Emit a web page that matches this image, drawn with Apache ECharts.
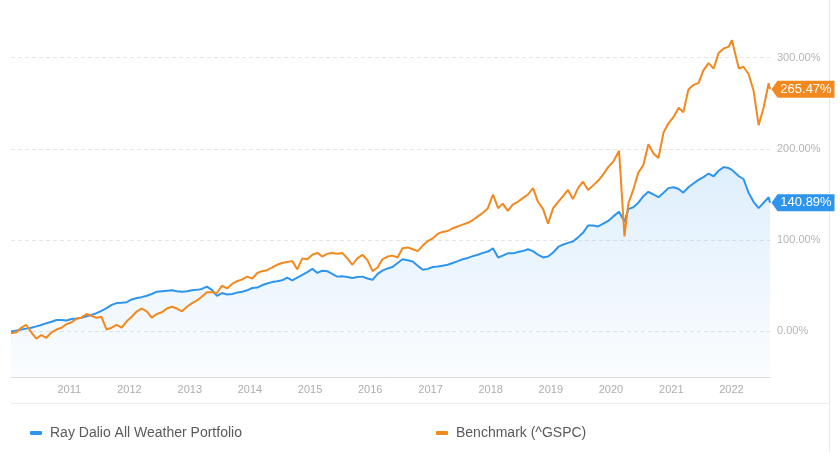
<!DOCTYPE html>
<html>
<head>
<meta charset="utf-8">
<style>
  html, body { margin: 0; padding: 0; background: #fff; }
  #chart { width: 840px; height: 460px; }
</style>
<script src="https://cdn.jsdelivr.net/npm/echarts@6/dist/echarts.min.js"></script>
</head>
<body>
<div id="chart"></div>
<script>
var dom = document.getElementById('chart');
var myChart = echarts.init(dom, null, { renderer: 'canvas' });

// one entry per month, plus a few turning points
var dates = [
  '2010-01-12', '2010-02-15', '2010-03-15', '2010-04-15', '2010-05-15', '2010-06-15', '2010-07-15', '2010-08-15', '2010-09-15', '2010-10-15', '2010-11-15', '2010-12-15',
  '2011-01-15', '2011-02-15', '2011-03-15', '2011-04-15', '2011-05-15', '2011-06-15', '2011-07-15', '2011-08-15', '2011-09-15', '2011-10-15', '2011-11-15', '2011-12-15',
  '2012-01-15', '2012-02-15', '2012-03-15', '2012-04-15', '2012-05-15', '2012-06-15', '2012-07-15', '2012-08-15', '2012-09-15', '2012-10-15', '2012-11-15', '2012-12-15',
  '2013-01-15', '2013-02-15', '2013-03-15', '2013-04-15', '2013-05-15', '2013-06-15', '2013-07-15', '2013-08-15', '2013-09-15', '2013-10-15', '2013-11-15', '2013-12-15',
  '2014-01-15', '2014-02-15', '2014-03-15', '2014-04-15', '2014-05-15', '2014-06-15', '2014-07-15', '2014-08-15', '2014-09-15', '2014-10-15', '2014-11-15', '2014-12-15',
  '2015-01-15', '2015-02-15', '2015-03-15', '2015-04-15', '2015-05-15', '2015-06-15', '2015-07-15', '2015-08-15', '2015-09-15', '2015-10-15', '2015-11-15', '2015-12-15',
  '2016-01-15', '2016-02-15', '2016-03-15', '2016-04-15', '2016-05-15', '2016-06-15', '2016-07-15', '2016-08-15', '2016-09-15', '2016-10-15', '2016-11-15', '2016-12-15',
  '2017-01-15', '2017-02-15', '2017-03-15', '2017-04-15', '2017-05-15', '2017-06-15', '2017-07-15', '2017-08-15', '2017-09-15', '2017-10-15', '2017-11-15', '2017-12-15',
  '2018-01-15', '2018-02-15', '2018-03-15', '2018-04-15', '2018-05-15', '2018-06-15', '2018-07-15', '2018-08-15', '2018-09-15', '2018-10-15', '2018-11-15', '2018-12-15',
  '2019-01-15', '2019-02-15', '2019-03-15', '2019-04-15', '2019-05-15', '2019-06-15', '2019-07-15', '2019-08-15', '2019-09-15', '2019-10-15', '2019-11-15', '2019-12-15',
  '2020-01-15', '2020-02-19', '2020-03-23', '2020-04-15', '2020-05-15', '2020-06-15', '2020-07-15', '2020-08-15', '2020-09-15', '2020-10-15', '2020-11-15', '2020-12-15',
  '2021-01-15', '2021-02-15', '2021-03-15', '2021-04-15', '2021-05-15', '2021-06-15', '2021-07-15', '2021-08-15', '2021-09-15', '2021-10-15', '2021-11-15', '2021-12-15',
  '2022-01-04', '2022-02-15', '2022-03-15', '2022-04-15', '2022-05-15', '2022-06-15', '2022-07-15', '2022-08-15', '2022-08-23'
];

// cumulative return, %
var allWeather = [
  0, 1, 2, 3, 4, 5.5, 7, 9, 10.5, 12.5, 12.5, 12,
  13.5, 14, 15, 16.5, 18, 20, 22.5, 25.5, 29, 31, 31.5, 32,
  35, 36.5, 37.5, 39, 41, 43.5, 44, 44.5, 45, 44, 43.5, 44,
  45, 45.5, 46.5, 49, 45.5, 39, 42, 40.5, 41, 42.5, 43.5, 45,
  47.5, 48, 50.5, 52.5, 54, 55, 56, 59, 56, 59, 62, 65,
  68.5, 64, 66.5, 66, 63, 60, 60.5, 59.5, 58.5, 59.5, 60, 58,
  56.5, 63, 66.5, 69, 70.5, 75, 79, 78, 76.5, 72, 67.5, 68.5,
  70.5, 71, 72, 73, 75, 77, 79, 80.5, 82.5, 84, 86, 87.5,
  91, 81, 83, 85.5, 85.5, 87, 88, 90, 88, 84, 81, 82,
  86.5, 92.5, 95, 97, 98.5, 103, 108, 116, 116, 115, 118, 121,
  126, 131, 120, 134, 136, 141, 148, 153, 150, 147, 152, 157,
  158, 156, 152, 158, 162, 166, 169, 173, 170, 176, 180, 179,
  177, 170, 167, 152, 142, 135, 141, 147, 140.89
];

var benchmark = [
  -2, -1, 4, 7, -1, -8, -4, -7, -1, 2, 4, 8,
  10, 14, 15, 19, 17, 15, 16, 2, 4, 7, 4, 11,
  16, 22, 25, 22, 15, 19, 21, 25, 27, 25, 22, 27,
  31, 34, 38, 43, 43, 42, 50, 47, 52, 55, 57, 60,
  58, 64, 66, 67, 70, 73, 75, 76, 77, 68, 80, 79,
  84, 86, 82, 85, 86, 85, 86, 80, 73, 80, 84, 78,
  66, 70, 79, 82, 83, 81, 91, 92, 90, 88, 94, 99,
  102, 107, 109, 110, 113, 115, 117, 119, 122, 126, 130, 135,
  150, 135, 140, 132, 139, 142, 146, 150, 157, 142, 134, 118,
  135, 142, 148, 155, 145, 157, 164, 155, 160, 165, 172, 180,
  186, 198, 104, 140, 155, 174, 182, 205, 195, 190, 218, 228,
  235, 245, 240, 265, 270, 272, 286, 294, 288, 305, 310, 312,
  319, 288, 290, 282, 264, 226, 245, 272, 265.47
];

var seriesNames = ['Ray Dalio All Weather Portfolio', 'Benchmark (^GSPC)'];
var yTicks = [0, 100, 200, 300];

var blue = '#2e95ee';
var orange = '#f2891f';
var fontFamily = '"Liberation Sans", Arial, sans-serif';

function pairs(values) {
  return values.map(function (v, i) { return [dates[i], v]; });
}

function endTag(values, color) {
  var last = values.length - 1;
  return {
    silent: true,
    animation: false,
    symbol: 'path://M0,8.5 L6,0 L63,0 L63,17 L6,17 Z',
    symbolKeepAspect: false,
    symbolSize: [63, 17],
    symbolOffset: [33, 0],
    itemStyle: { color: color },
    label: {
      show: true,
      position: 'inside',
      offset: [3, 0],
      color: '#fff',
      fontSize: 13,
      fontFamily: fontFamily,
      formatter: function () { return values[last].toFixed(2) + '%'; }
    },
    data: [{ coord: [dates[last], values[last]], value: values[last] }]
  };
}

var legendBase = {
  top: 421,
  icon: 'roundRect',
  itemWidth: 12,
  itemHeight: 4,
  selectedMode: false,
  textStyle: { color: '#5a5a5a', fontSize: 14, fontFamily: fontFamily, padding: [0, 0, 0, 3] }
};

var option = {
  animation: false,
  backgroundColor: '#fff',
  grid: { left: 11, right: 70, top: 12, bottom: 83 },
  legend: [
    Object.assign({}, legendBase, { left: 25, data: [seriesNames[0]] }),
    Object.assign({}, legendBase, { left: 431, data: [seriesNames[1]] })
  ],
  xAxis: {
    type: 'time',
    min: dates[0],
    max: dates[dates.length - 1],
    minInterval: 365 * 24 * 3600 * 1000,
    maxInterval: 366 * 24 * 3600 * 1000,
    axisLine: { onZero: false, lineStyle: { color: '#dcdcdc', width: 1 } },
    axisTick: { show: false },
    splitLine: { show: false },
    axisLabel: {
      formatter: '{yyyy}',
      color: '#adadad',
      fontSize: 11,
      fontFamily: fontFamily,
      margin: 7
    }
  },
  yAxis: {
    type: 'value',
    position: 'right',
    min: -50,
    max: 350,
    axisLine: { show: false },
    axisTick: { show: false, customValues: yTicks },
    axisLabel: {
      customValues: yTicks,
      color: '#b5b5b5',
      fontSize: 11,
      fontFamily: fontFamily,
      margin: 7,
      formatter: function (v) { return v.toFixed(2) + '%'; }
    },
    splitLine: { lineStyle: { color: '#e6e6e6', type: [4, 3], width: 1 } }
  },
  series: [
    {
      name: seriesNames[0],
      type: 'line',
      showSymbol: false,
      symbol: 'none',
      color: blue,
      itemStyle: { color: blue },
      lineStyle: { color: blue, width: 2 },
      areaStyle: {
        origin: 'start',
        color: new echarts.graphic.LinearGradient(0, 0, 0, 1, [
          { offset: 0, color: 'rgba(46,149,238,0.22)' },
          { offset: 1, color: 'rgba(46,149,238,0.03)' }
        ])
      },
      markPoint: endTag(allWeather, blue),
      data: pairs(allWeather)
    },
    {
      name: seriesNames[1],
      type: 'line',
      showSymbol: false,
      symbol: 'none',
      color: orange,
      itemStyle: { color: orange },
      lineStyle: { color: orange, width: 2 },
      markPoint: endTag(benchmark, orange),
      data: pairs(benchmark)
    }
  ],
  graphic: [
    {
      type: 'line',
      silent: true,
      shape: { x1: 829.5, y1: 0, x2: 829.5, y2: 452 },
      style: { stroke: '#e8e8e8', lineWidth: 1 }
    },
    {
      type: 'line',
      silent: true,
      shape: { x1: 11, y1: 403.5, x2: 829.5, y2: 403.5 },
      style: { stroke: '#ebebeb', lineWidth: 1 }
    }
  ]
};

myChart.setOption(option);

window.addEventListener('resize', myChart.resize);
</script>
</body>
</html>
